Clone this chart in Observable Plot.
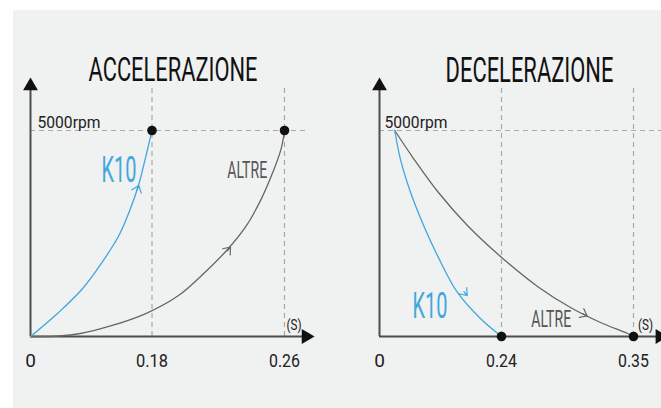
<!DOCTYPE html>
<html><head><meta charset="utf-8">
<script src="https://cdn.jsdelivr.net/npm/d3@7"></script>
<script src="https://cdn.jsdelivr.net/npm/@observablehq/plot@0.6"></script>
<style>
html,body{margin:0;padding:0;background:#fff;}
#wrap{position:relative;width:661px;height:408px;overflow:hidden;}
#bg{position:absolute;left:13px;top:10px;width:648px;height:398px;background:#f0f1f1;}
#wrap svg{position:absolute;left:0;top:0;}
</style></head><body><div id="wrap"><div id="bg"></div></div>
<script>
// ---- data ----
const rpmMax = 5000;
const rpmLabel = "5000rpm";
const timeUnit = "(S)";

const accelTitle = "ACCELERAZIONE";
const accelTicks = [0, 0.18, 0.26];
const accelK10T   = [0, 0.042, 0.077, 0.106, 0.131, 0.148, 0.160, 0.170, 0.18];
const accelK10Rpm = [0, 590, 1160, 1800, 2450, 3100, 3670, 4310, 5000];
const accelAltreT   = [0, 0.042, 0.074, 0.116, 0.170, 0.196, 0.212, 0.226, 0.237, 0.246, 0.253, 0.258, 0.26];
const accelAltreRpm = [0, 12, 73, 243, 551, 995, 1560, 2130, 2690, 3340, 3990, 4560, 5000];
// direction arrows: [from, to] along the curve's tangent
const accelK10ArrowT = [0.1455, 0.1604], accelK10ArrowRpm = [2978, 3665];
const accelAltreArrowT = [0.2158, 0.2274], accelAltreArrowRpm = [1614, 2172];

const decelTitle = "DECELERAZIONE";
const decelTicks = [0, 0.24, 0.35];
const decelK10T   = [0.03, 0.041, 0.061, 0.087, 0.117, 0.153, 0.199, 0.24];
const decelK10Rpm = [5000, 4310, 3500, 2690, 1890, 1075, 430, 0];
const decelAltreT   = [0.03, 0.067, 0.116, 0.173, 0.238, 0.270, 0.2975, 0.3225, 0.345, 0.35];
const decelAltreRpm = [5000, 4320, 3495, 2694, 1942, 1214, 704, 340, 73, 0];
const decelK10ArrowT = [0.134, 0.1725], decelK10ArrowRpm = [1546, 995];
const decelAltreArrowT = [0.2891, 0.3114], decelAltreArrowRpm = [835, 498];

const seriesNames = ["K10", "ALTRE"];

// ---- style ----
const FONT = "Roboto, 'Noto Sans', sans-serif";
const BLUE = "#3fa8de", GREY = "#666666", AXIS = "#4d4d4d", DASH = "#a9a9a9";
const yArrow = 6080, yDashTop = 6020;

const pts = (t, r) => t.map((d, i) => ({t: d, rpm: r[i]}));

function panel(c) {
  const tickFmt = d => d === 0 ? "0" : String(d);
  const arrowOpts = {x1: d => d.t[0], y1: d => d.r[0], x2: d => d.t[1], y2: d => d.r[1],
                     strokeWidth: 1.2, headLength: 10, headAngle: 75, insetStart: 25};
  const label = {frameAnchor: "top-left", textAnchor: "middle", lineAnchor: "middle", fontFamily: FONT};
  return Plot.plot({
    width: 661, height: 408, margin: 0,
    style: {background: "transparent", overflow: "visible"},
    x: {type: "linear", domain: c.ticks, range: c.range, axis: null},
    y: {type: "linear", domain: [0, rpmMax], range: [336, 130], axis: null},
    marks: [
      Plot.ruleX(c.ticks.slice(1), {x: d => d, y1: 0, y2: yDashTop, stroke: DASH, strokeWidth: 1.2, strokeDasharray: "5,4"}),
      Plot.ruleY([rpmMax], {y: d => d, x1: 0, x2: c.hEnd, stroke: DASH, strokeWidth: 1.2, strokeDasharray: "5,4"}),
      Plot.ruleY([0], {y: d => d, x1: 0, x2: c.xEnd, stroke: AXIS, strokeWidth: 2}),
      Plot.ruleX([0], {x: d => d, y1: 0, y2: yArrow, stroke: AXIS, strokeWidth: 2}),
      Plot.dot([{t: c.xEnd, rpm: 0, rot: 90}, {t: 0, rpm: yArrow, rot: 0}],
        {x: "t", y: "rpm", rotate: "rot", symbol: "triangle", r: 5.5, fill: "#111", stroke: "none"}),
      Plot.line(c.altre, {x: "t", y: "rpm", stroke: GREY, strokeWidth: 1.3, curve: "catmull-rom"}),
      Plot.line(c.k10, {x: "t", y: "rpm", stroke: BLUE, strokeWidth: 1.3, curve: "catmull-rom"}),
      Plot.arrow([c.altreArrow], {...arrowOpts, stroke: GREY}),
      Plot.arrow([c.k10Arrow], {...arrowOpts, stroke: BLUE}),
      Plot.dot(c.dots, {x: "t", y: "rpm", r: 4.8, fill: "#111"}),
      Plot.text(c.ticks, {x: d => d, y: d => 0, dy: 24, text: tickFmt, fontSize: 19, fill: "#222", fontFamily: FONT}),
      Plot.text([rpmLabel], {x: d => 0, y: d => rpmMax, dx: c.rpmDx, dy: -8.5, textAnchor: "start", fontSize: 17, fill: "#222", fontFamily: FONT}),
      Plot.text([c.title], {...label, dx: c.titleX, dy: 70, fontSize: 34, fill: "#111"}),
      Plot.text([seriesNames[0]], {...label, dx: c.k10Pos[0], dy: c.k10Pos[1], fontSize: 36, fill: BLUE}),
      Plot.text([seriesNames[1]], {...label, dx: c.altrePos[0], dy: c.altrePos[1], fontSize: 23, fill: "#555"}),
      Plot.text([timeUnit], {...label, dx: c.sPos[0], dy: c.sPos[1], fontSize: 15, fill: "#222"})
    ]
  });
}

// condensed lettering: [visible width, cap height] of each text
const fit = {"ACCELERAZIONE": [169, 24], "DECELERAZIONE": [168, 25], "K10": [35, 26], "ALTRE": [40, 16.6],
             "5000rpm": [63, 12.3], "0.18": [32, 13.7], "0.26": [31, 13.7], "0.24": [31, 13.7],
             "0.35": [31, 13.7], "(S)": [15, 11]};
function fitText(svg) {
  svg.querySelectorAll("text").forEach(t => {
    const f = fit[t.textContent];
    if (!f) return;
    const fs0 = parseFloat(getComputedStyle(t).fontSize);
    const len = t.getComputedTextLength();
    const fs = fs0 * f[0] / len;
    const sy = f[1] / (0.711 * fs);
    t.setAttribute("font-size", fs.toFixed(2));
    t.style.fontSize = fs.toFixed(2) + "px";
    const tr = t.getAttribute("transform") || "";
    t.setAttribute("transform", (tr + ` scale(1,${sy.toFixed(3)})`).trim());
  });
  return svg;
}

const left = panel({
  title: accelTitle, ticks: accelTicks, range: [30, 151.5, 284],
  k10: pts(accelK10T, accelK10Rpm), altre: pts(accelAltreT, accelAltreRpm),
  k10Arrow: {t: accelK10ArrowT, r: accelK10ArrowRpm}, altreArrow: {t: accelAltreArrowT, r: accelAltreArrowRpm},
  dots: accelTicks.slice(1).map(t => ({t, rpm: rpmMax})),
  xEnd: 0.273, hEnd: 0.2727, rpmDx: 7, titleX: 172.5,
  k10Pos: [118.5, 170], altrePos: [246.7, 170], sPos: [293.5, 324.5]
});
const right = panel({
  title: decelTitle, ticks: decelTicks, range: [379, 501, 633],
  k10: pts(decelK10T, decelK10Rpm), altre: pts(decelAltreT, decelAltreRpm),
  k10Arrow: {t: decelK10ArrowT, r: decelK10ArrowRpm}, altreArrow: {t: decelAltreArrowT, r: decelAltreArrowRpm},
  dots: decelTicks.slice(1).map(t => ({t, rpm: 0})),
  xEnd: 0.372, hEnd: 0.385, rpmDx: 5, titleX: 529,
  k10Pos: [429.5, 305.5], altrePos: [550.7, 319], sPos: [645, 324.5]
});
const wrap = document.getElementById("wrap");
wrap.appendChild(left);
wrap.appendChild(right);
fitText(left);
fitText(right);
</script>
</body></html>
